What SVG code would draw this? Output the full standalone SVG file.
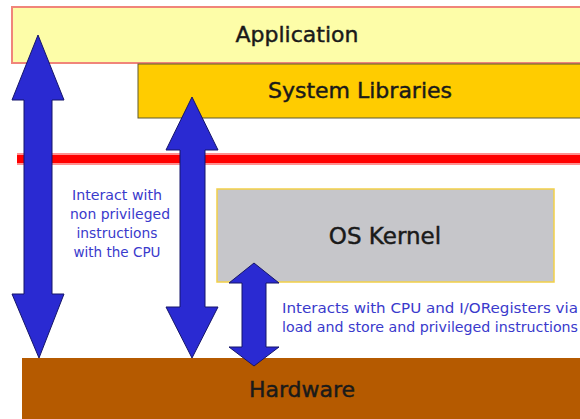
<svg xmlns="http://www.w3.org/2000/svg" width="580" height="419" viewBox="0 0 580 419">
<style>
.bg{fill:#ffffff}
.title{font-family:"DejaVu Sans","Liberation Sans",sans-serif;font-size:22px;fill:#1a1a1a;stroke:#1a1a1a;stroke-width:0.45;text-anchor:middle}
.note{font-family:"DejaVu Sans","Liberation Sans",sans-serif;font-size:14px;fill:#3a3acc}
.arrow{fill:#2a2ad2;stroke:#15156a;stroke-width:1;stroke-linejoin:miter}
</style>
<rect class="bg" x="0" y="0" width="580" height="419"/>
<g id="application">
<rect x="12" y="7" width="572" height="56" fill="#fdfda8" stroke="#f0857a" stroke-width="2"/>
<text class="title" x="297" y="42">Application</text>
</g>
<g id="system-libraries">
<rect x="138" y="64" width="446" height="54" fill="#ffcc00" stroke="#5e5a30" stroke-width="1"/>
<text class="title" x="360" y="98">System Libraries</text>
</g>
<g id="privilege-boundary">
<rect x="17" y="153" width="567" height="12" fill="#ff9090"/>
<rect x="17" y="155" width="567" height="8" fill="#ff0000"/>
</g>
<g id="os-kernel">
<rect x="217" y="189" width="337" height="93" fill="#c6c6ca" stroke="#f2d048" stroke-width="1.5"/>
<text class="title" x="385" y="244" style="font-size:23px">OS Kernel</text>
</g>
<g id="hardware">
<rect x="22" y="358" width="562" height="65" fill="#b55a00"/>
<text class="title" x="302" y="397">Hardware</text>
</g>
<g id="connectors">
<polygon class="arrow" points="38,35 64,100 52,100 52,294 64,294 39,358 12,294 24,294 24,100 12,100"/>
<polygon class="arrow" points="192,97 218,150 205,150 205,307 218,307 192,358 166,307 180,307 180,150 166,150"/>
<polygon class="arrow" points="254,263 279,283 266,283 266,347 279,347 254,366 229,347 242,347 242,283 229,283"/>
</g>
<g id="label-nonprivileged" class="note" text-anchor="middle">
<text x="117" y="200" textLength="90" lengthAdjust="spacingAndGlyphs">Interact with</text>
<text x="120" y="219" textLength="100" lengthAdjust="spacingAndGlyphs">non privileged</text>
<text x="117" y="238" textLength="81" lengthAdjust="spacingAndGlyphs">instructions</text>
<text x="117" y="257" textLength="87" lengthAdjust="spacingAndGlyphs">with the CPU</text>
</g>
<g id="label-privileged" class="note">
<text x="282" y="313" textLength="296" lengthAdjust="spacingAndGlyphs">Interacts with CPU and I/ORegisters via</text>
<text x="282" y="332" textLength="296" lengthAdjust="spacingAndGlyphs">load and store and privileged instructions</text>
</g>
</svg>
